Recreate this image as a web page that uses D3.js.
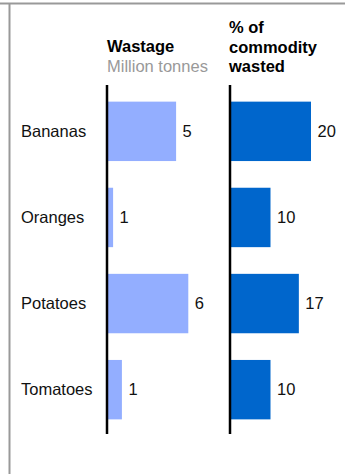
<!DOCTYPE html>
<html lang="en">
<head>
  <meta charset="utf-8">
  <title>Food wastage</title>
  <script src="https://d3js.org/d3.v7.min.js"></script>
  <style>
body { margin: 0; background: #fff; font-family: "Liberation Sans", Arial, sans-serif; }
  </style>
</head>
<body>
<div id="chart"></div>
<script>
// data
var crops = ["Bananas", "Oranges", "Potatoes", "Tomatoes"];
var wastage = [5.1, 0.45, 6, 1.1];         // million tonnes
var wastageLabels = ["5", "1", "6", "1"];
var pctWasted = [20, 10, 17, 10];          // % of commodity wasted
var pctLabels = ["20", "10", "17", "10"];

var W = 345, H = 474;

var svg = d3.select("#chart").append("svg")
  .attr("width", W)
  .attr("height", H);

// frame lines (top + left)
svg.append("line").attr("x1", 0).attr("x2", W).attr("y1", 3.5).attr("y2", 3.5)
  .attr("stroke", "#999").attr("stroke-width", 2);
svg.append("line").attr("x1", 9.5).attr("x2", 9.5).attr("y1", 3).attr("y2", H)
  .attr("stroke", "#999").attr("stroke-width", 2);

var y = d3.scaleBand()
  .domain(crops)
  .range([87, 434])
  .paddingInner(0.31)
  .paddingOuter(0.17);

var x1 = d3.scaleLinear().domain([0, 6]).range([107, 188.3]);
var x2 = d3.scaleLinear().domain([0, 20]).range([230, 311]);

// category labels
svg.selectAll(".cat")
  .data(crops)
  .enter().append("text")
    .attr("x", 21)
    .attr("y", function(d) { return y(d) + y.bandwidth() / 2; })
    .attr("dy", "0.35em")
    .attr("font-size", 16.5)
    .attr("fill", "#111")
    .text(function(d) { return d; });

function panel(x, vals, labels, colour) {
  svg.selectAll(null)
    .data(crops)
    .enter().append("rect")
      .attr("x", x(0))
      .attr("y", function(d) { return y(d); })
      .attr("width", function(d, i) { return x(vals[i]) - x(0); })
      .attr("height", y.bandwidth())
      .attr("fill", colour);

  svg.selectAll(null)
    .data(crops)
    .enter().append("text")
      .attr("x", function(d, i) { return x(vals[i]) + 6.5; })
      .attr("y", function(d) { return y(d) + y.bandwidth() / 2; })
      .attr("dy", "0.35em")
      .attr("font-size", 16.5)
      .attr("fill", "#111")
      .text(function(d, i) { return labels[i]; });

  // axis line
  svg.append("line")
    .attr("x1", x(0)).attr("x2", x(0))
    .attr("y1", 85).attr("y2", 434)
    .attr("stroke", "#000").attr("stroke-width", 2.5);
}

panel(x1, wastage, wastageLabels, "#93aeff");
panel(x2, pctWasted, pctLabels, "#0066cc");

// headers
svg.append("text").attr("x", 107).attr("y", 51.5)
  .attr("font-size", 16.5).attr("font-weight", "bold").text("Wastage");
svg.append("text").attr("x", 107).attr("y", 72)
  .attr("font-size", 16.5).attr("fill", "#999").text("Million tonnes");

["% of", "commodity", "wasted"].forEach(function(t, i) {
  svg.append("text").attr("x", 229).attr("y", 33 + i * 19.5)
    .attr("font-size", 16.5).attr("font-weight", "bold").text(t);
});
</script>
</body>
</html>
